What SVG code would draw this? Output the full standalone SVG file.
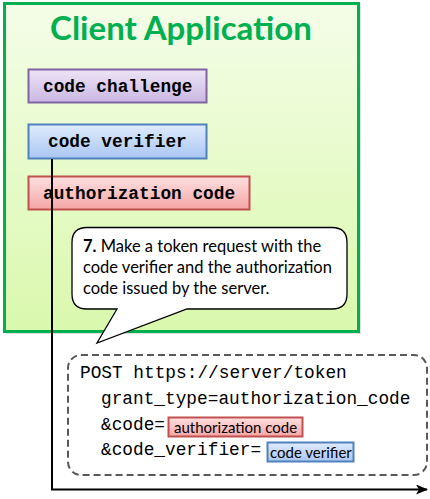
<svg xmlns="http://www.w3.org/2000/svg" width="430" height="499" viewBox="0 0 430 499">
<defs>
<linearGradient id="gGreen" x1="0" y1="0" x2="0" y2="1"><stop offset="0" stop-color="#f4fde8"/><stop offset="1" stop-color="#daf8ad"/></linearGradient>
<linearGradient id="gPurple" x1="0" y1="0" x2="0" y2="1"><stop offset="0" stop-color="#ece4f6"/><stop offset="1" stop-color="#cbb7e2"/></linearGradient>
<linearGradient id="gBlue" x1="0" y1="0" x2="0" y2="1"><stop offset="0" stop-color="#e0ebfc"/><stop offset="1" stop-color="#a9c6f3"/></linearGradient>
<linearGradient id="gRed" x1="0" y1="0" x2="0" y2="1"><stop offset="0" stop-color="#ffe0e0"/><stop offset="1" stop-color="#f5a5a5"/></linearGradient>
<marker id="arrow" markerWidth="12" markerHeight="10" refX="11" refY="5" orient="auto" markerUnits="userSpaceOnUse"><path d="M0,0 L12,5 L0,10 L3,5 Z" fill="#000"/></marker>
</defs>
<style>
.lbl{font-family:"Liberation Mono",monospace;font-weight:bold;font-size:17.8px;fill:#000;}
.sans{font-family:Lato,"Open Sans",sans-serif;}
.code{font-family:"Liberation Mono",monospace;font-size:17.8px;fill:#000;}
</style>
<g id="client-app">
<rect x="6" y="5" width="355" height="329" fill="#000" opacity="0.12"/>
<rect x="4.5" y="3.5" width="354" height="328" fill="url(#gGreen)" stroke="#00b050" stroke-width="3"/>
<text x="181" y="40" text-anchor="middle" class="sans" font-size="33" font-weight="bold" fill="#00b050">Client Application</text>
</g>
<g id="code-challenge">
<rect x="28.5" y="69.5" width="178" height="33" fill="url(#gPurple)" stroke="#8064a2" stroke-width="2"/>
<text x="43" y="92" class="lbl">code challenge</text>
</g>
<g id="code-verifier">
<rect x="28.5" y="124.5" width="178" height="34" fill="url(#gBlue)" stroke="#4f81bd" stroke-width="2"/>
<text x="48" y="147" class="lbl">code verifier</text>
</g>
<g id="authorization-code">
<rect x="28.5" y="176.5" width="221" height="33" fill="url(#gRed)" stroke="#c0504d" stroke-width="2"/>
<text x="43" y="199" class="lbl">authorization code</text>
</g>
<g id="connectors">
<path d="M52,159 V489.5 H427" fill="none" stroke="#000" stroke-width="2" marker-end="url(#arrow)"/>
</g>
<g id="callout">
<path d="M87,227.5 H332 Q347,227.5 347,242.5 V294 Q347,309 332,309 H187 L97,343 L117,309 H87 Q72,309 72,294 V242.5 Q72,227.5 87,227.5 Z" fill="#fff" stroke="#000" stroke-width="1.3"/>
<text class="sans" font-size="16.5" fill="#000"><tspan x="83" y="252"><tspan font-weight="bold">7.</tspan> Make a token request with the</tspan><tspan x="83" y="273">code verifier and the authorization</tspan><tspan x="83" y="294">code issued by the server.</tspan></text>
</g>
<g id="request">
<rect x="68" y="355" width="359" height="120" rx="13" fill="#fff" stroke="#595959" stroke-width="2" stroke-dasharray="7,4"/>
<text x="80" y="378" class="code">POST https://server/token</text>
<text x="101" y="404" class="code">grant_type=authorization_code</text>
<text x="101" y="430" class="code">&amp;code=</text>
<text x="101" y="455" class="code">&amp;code_verifier=</text>
<rect x="168.5" y="417.5" width="134" height="19" fill="url(#gRed)" stroke="#c0504d" stroke-width="2"/>
<text x="174" y="433" class="sans" font-size="15" fill="#000">authorization  code</text>
<rect x="267.5" y="442.5" width="86" height="19" fill="url(#gBlue)" stroke="#4f81bd" stroke-width="2"/>
<text x="270" y="458" class="sans" font-size="15" fill="#000">code verifier</text>
</g>
</svg>
